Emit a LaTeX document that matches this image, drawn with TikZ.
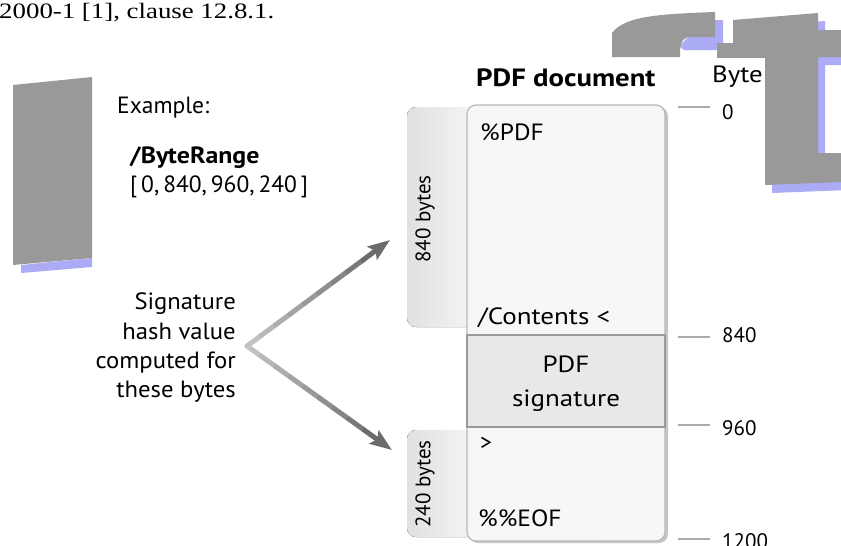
\documentclass[tikz,border=0pt]{standalone}
\usepackage{fontspec}
\setmainfont{PT Sans}
\newfontfamily\pageserif{Liberation Serif}
\usetikzlibrary{positioning,calc,arrows.meta}
\definecolor{wmgray}{HTML}{999999}
\definecolor{wmblue}{HTML}{ABABF6}
\definecolor{docfill}{HTML}{F6F7F7}
\definecolor{sigfill}{HTML}{E8E8E8}
\definecolor{edgegray}{HTML}{9A9A9A}

\tikzset{
  txt/.style={inner sep=0pt, font=\fontsize{23.5}{29.3}\selectfont},
  boldtxt/.style={txt, font=\fontsize{23.5}{29}\selectfont\bfseries},
  smalltxt/.style={inner sep=0pt, font=\fontsize{21}{25}\selectfont},
  tickmark/.style={draw=gray!65, line width=2pt},
  bytetab/.style={left color=gray!24, right color=gray!7, draw=none, rounded corners=9pt},
  docbox/.style={fill=docfill, draw=edgegray!70, line width=1.2pt, rounded corners=9pt},
  sigbox/.style={fill=sigfill, draw=edgegray, line width=1.4pt},
  hashline/.style={line width=5pt, line cap=round},
}

\begin{document}
\begin{tikzpicture}[x=1pt,y=-1pt]
\useasboundingbox (0,0) rectangle (841,546);

% stray glyph shapes behind the figure
\fill[wmblue] (715,20) -- (723,20) -- (723,50) -- (684,50) .. controls (680,47) .. (683,42) -- (688,37) -- (715,37) -- cycle;
\fill[wmblue, shift={(7,8)}] (733,20) -- (818,13) -- (818,30) -- (841,30) -- (841,57) -- (818,57) -- (818,153) -- (841,153) -- (841,182) -- (765,185) -- (765,58) -- (717,58) -- (717,43) -- (733,43) -- cycle;
\fill[wmgray] (612,57) -- (612,33) .. controls (625,15) and (665,14) .. (715,12) -- (715,37) -- (688,37) .. controls (682,40) .. (680,50) -- (680,57) -- cycle;
\fill[wmgray] (733,20) -- (818,13) -- (818,30) -- (841,30) -- (841,57) -- (818,57) -- (818,153) -- (841,153) -- (841,182) -- (765,185) -- (765,58) -- (717,58) -- (717,43) -- (733,43) -- cycle;
\fill[white] (600,58) rectangle (765,546);
\fill[wmblue] (21,265) -- (92,258) -- (92,267) -- (21,273) -- cycle;
\fill[wmgray] (13,85) -- (92,77) -- (92,258) -- (13,265) -- cycle;

\node[inner sep=0pt, xscale=1.22, font=\pageserif\fontsize{22}{26}\selectfont, anchor=base west] (clause) at (-1,19) {2000-1 [1], clause 12.8.1.};

% left column
\node[txt, anchor=base west] (example) at (117,113) {Example:};
\node[boldtxt, xscale=1.1, anchor=base west] (byterange) at (130,163) {/ByteRange};
\node[txt, anchor=base west] (rangevals) at (130,192) {[\,0,\,840,\,960,\,240\,]};
\node[txt, xscale=1.05, align=right, anchor=north east] (hashnote) at (236,293) {Signature\\hash value\\computed for\\these bytes};

% byte tabs
\fill[bytetab] (407,107) rectangle (480,327);
\fill[bytetab] (407,430) rectangle (480,537);
\node[smalltxt, rotate=90] (tabfirst) at (425,219) {840 bytes};
\node[smalltxt, rotate=90] (tablast) at (425,484) {240 bytes};

% the document
\fill[gray!45, rounded corners=9pt] (469,107) rectangle (668,543);
\draw[docbox] (467,105) rectangle (665,541);
\draw[sigbox] (467,335) rectangle (665,427);

\node[boldtxt, xscale=1.15, font=\fontsize{25}{29}\selectfont\bfseries, anchor=base west] (doctitle) at (476,86) {PDF document};
\node[txt, xscale=1.14, anchor=base west] (bytehdr) at (712,82) {Byte};
\node[txt, xscale=1.08, anchor=base west] (pdfhead) at (480,140) {\%PDF};
\node[txt, xscale=1.15, anchor=base west] (contents) at (478,324) {/Contents <};
\node[txt, xscale=1.15, font=\fontsize{23.5}{34}\selectfont, align=center] (sigtext) at (566,384) {PDF\\signature};
\node[txt, anchor=base west] (closing) at (480,450) {>};
\node[txt, xscale=1.08, anchor=base west] (eof) at (478,526) {\%\%EOF};

% byte offsets
\foreach \y/\ly/\off in {107/112/0, 337/335/840, 425/428/960, 539/541/1200}{
  \draw[tickmark] (678,\y) -- (710,\y);
  \node[smalltxt, anchor=west] (off\off) at (722,\ly) {\off};
}

% hash arrows
\coordinate (fork) at (247,346);
\coordinate (tipup) at (390,240);
\coordinate (tipdown) at (392,450);
\foreach \tip in {tipup,tipdown}{
  \foreach \k [evaluate=\k as \shade using int(24+4*\k)] in {0,...,7}
    \draw[hashline, draw=black!\shade] ($(fork)!{\k/10}!(\tip)$) -- ($(fork)!{(\k+1)/10}!(\tip)$);
  \draw[line width=5pt, draw=black!58, -{Stealth[length=22pt,width=16pt,inset=4pt]}] ($(fork)!0.8!(\tip)$) -- (\tip);
}
\end{tikzpicture}
\end{document}
